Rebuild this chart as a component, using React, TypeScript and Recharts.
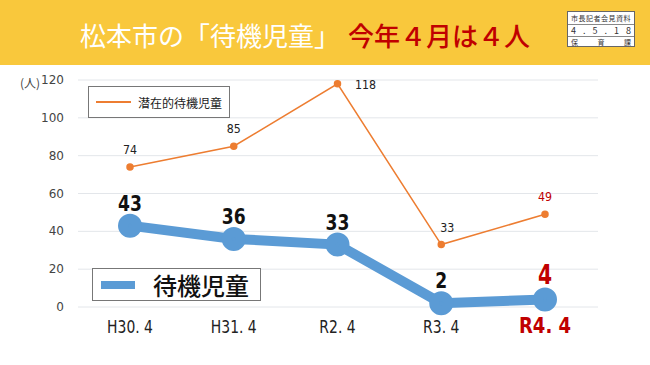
import React from "react"
import { LineChart, Line, XAxis, YAxis, CartesianGrid, LabelList } from "recharts"

const categories = ["H30. 4", "H31. 4", "R2. 4", "R3. 4", "R4. 4"]
const waiting = [43, 36, 33, 2, 4]
const potential = [74, 85, 118, 33, 49]
const yTicks = [0, 20, 40, 60, 80, 100, 120]

const data = categories.map((c, i) => ({ cat: c, waiting: waiting[i], potential: potential[i] }))

const BLUE = "#5b9bd5"
const ORANGE = "#ed7d31"
const RED = "#c00000"
const narrow = "'DejaVu Sans', sans-serif"
const jp = "'Noto Sans CJK JP', 'Noto Sans', sans-serif"

const last = categories.length - 1

// the source uses a condensed face, squeeze text horizontally to match
function Squeezed({ x, y, sx, children, ...rest }: any) {
  return (
    <g transform={`translate(${x},${y}) scale(${sx},1)`}>
      <text x={0} y={0} textAnchor="middle" fontFamily={narrow} {...rest}>
        {children}
      </text>
    </g>
  )
}

function BlueLabel(props: any) {
  const { x, y, value, index } = props
  const isLast = index === last
  return (
    <Squeezed
      x={x}
      y={y - 15}
      sx={0.78}
      fontWeight="bold"
      fontSize={isLast ? 26 : 22}
      fill={isLast ? RED : "#111"}
    >
      {value}
    </Squeezed>
  )
}

function OrangeLabel(props: any) {
  const { x, y, value, index } = props
  const isLast = index === last
  // the peak label sits to the right of its point
  const side = index === 2
  const dx = side ? 28 : index === 3 ? 6 : 0
  const dy = side ? 5 : -13
  return (
    <Squeezed x={x + dx} y={y + dy} sx={0.85} fontSize={13} fill={isLast ? RED : "#222"}>
      {value}
    </Squeezed>
  )
}

function XTick(props: any) {
  const { x, y, payload, index } = props
  const isLast = index === last
  return (
    <Squeezed
      x={x}
      y={y + 18}
      sx={0.82}
      fontWeight={isLast ? "bold" : "normal"}
      fontSize={isLast ? 22 : 17}
      fill={isLast ? RED : "#222"}
    >
      {payload.value}
    </Squeezed>
  )
}

function YTick(props: any) {
  const { x, y, payload } = props
  return (
    <text x={x} y={y + 4} textAnchor="end" fontFamily={narrow} fontSize={12} fill="#444">
      {payload.value}
    </text>
  )
}

export default function App() {
  return (
    <div style={{ position: "absolute", left: 0, top: 0, width: 650, height: 365, background: "#fff", overflow: "hidden" }}>
      <div
        style={{
          position: "absolute",
          left: 0,
          top: 0,
          width: 650,
          height: 65,
          background: "#f9c83c",
        }}
      >
        <div
          style={{
            position: "absolute",
            left: 80,
            top: 20,
            fontFamily: jp,
            fontSize: 26,
            whiteSpace: "nowrap",
            lineHeight: "30px",
          }}
        >
          <span style={{ color: "#fff", fontWeight: 400 }}>松本市の「待機児童」</span>
          <span style={{ color: RED, marginLeft: 8, fontWeight: 500 }}>今年４月は４人</span>
        </div>
        <div
          style={{
            position: "absolute",
            left: 567,
            top: 11,
            width: 68,
            height: 36,
            background: "#fff",
            border: "1px solid #666",
            fontFamily: jp,
            fontSize: 7,
            color: "#333",
            boxSizing: "border-box",
          }}
        >
          <div style={{ height: 12, lineHeight: "12px", borderBottom: "1px solid #888", textAlign: "center", letterSpacing: 0.5 }}>市長記者会見資料</div>
          <div style={{ height: 11, lineHeight: "11px", borderBottom: "1px solid #888", display: "flex", justifyContent: "space-between", padding: "0 3px", fontSize: 9 }}>
            <span>4</span><span>.</span><span>5</span><span>.</span><span>1</span><span>8</span>
          </div>
          <div style={{ height: 11, lineHeight: "11px", display: "flex", justifyContent: "space-between", padding: "0 3px" }}>
            <span>保</span><span>育</span><span>課</span>
          </div>
        </div>
      </div>

      <div style={{ position: "absolute", left: 20, top: 74, fontFamily: jp, fontSize: 12, color: "#444" }}>(人)</div>

      <div style={{ position: "absolute", left: 0, top: 0 }}>
        <LineChart width={650} height={365} data={data} margin={{ top: 80, right: 52, bottom: 18, left: 0 }}>
          <CartesianGrid vertical={false} stroke="#e3e6ea" />
          <XAxis
            dataKey="cat"
            axisLine={false}
            tickLine={false}
            interval={0}
            height={40}
            padding={{ left: 52, right: 53 }}
            tick={<XTick />}
          />
          <YAxis
            domain={[0, 120]}
            ticks={yTicks}
            width={78}
            axisLine={false}
            tickLine={false}
            tickMargin={8}
            tick={<YTick />}
          />
          <Line
            dataKey="potential"
            stroke={ORANGE}
            strokeWidth={1.5}
            dot={{ r: 3, fill: ORANGE, stroke: ORANGE }}
            isAnimationActive={false}
          >
            <LabelList dataKey="potential" content={<OrangeLabel />} />
          </Line>
          <Line
            dataKey="waiting"
            stroke={BLUE}
            strokeWidth={10}
            dot={{ r: 7, fill: BLUE, stroke: BLUE }}
            isAnimationActive={false}
          >
            <LabelList dataKey="waiting" content={<BlueLabel />} />
          </Line>
        </LineChart>
      </div>

      <div
        style={{
          position: "absolute",
          left: 88,
          top: 86,
          width: 142,
          height: 32,
          background: "#fff",
          border: "1px solid #777",
          boxSizing: "border-box",
          display: "flex",
          alignItems: "center",
        }}
      >
        <div style={{ marginLeft: 7, width: 35, height: 2, background: ORANGE }} />
        <span style={{ marginLeft: 7, fontFamily: jp, fontSize: 12, color: "#222" }}>潜在的待機児童</span>
      </div>

      <div
        style={{
          position: "absolute",
          left: 92,
          top: 268,
          width: 169,
          height: 33,
          background: "#fff",
          border: "1px solid #777",
          boxSizing: "border-box",
          display: "flex",
          alignItems: "center",
        }}
      >
        <div style={{ marginLeft: 8, width: 34, height: 8, background: BLUE }} />
        <span style={{ marginLeft: 18, fontFamily: jp, fontSize: 24, fontWeight: 500, color: "#111", lineHeight: "30px" }}>待機児童</span>
      </div>
    </div>
  )
}
